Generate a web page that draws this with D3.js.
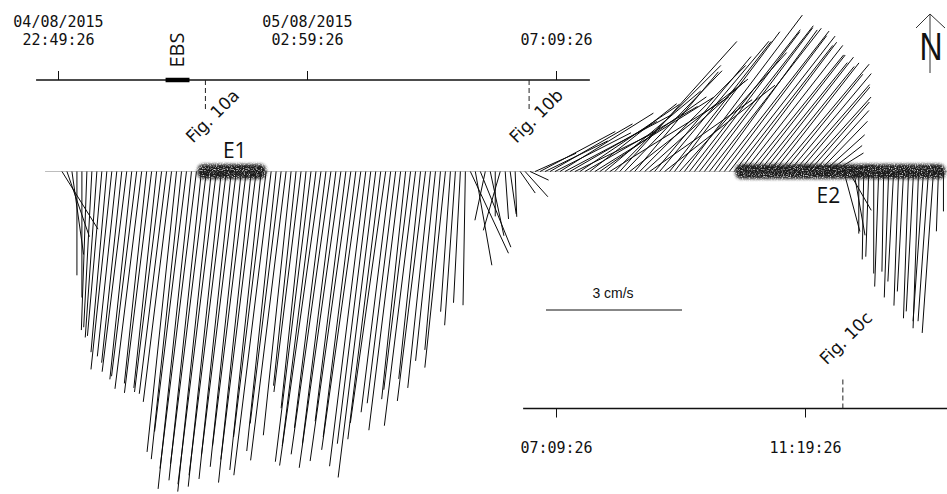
<!DOCTYPE html>
<html>
<head>
<meta charset="utf-8">
<script src="https://cdn.jsdelivr.net/npm/d3@7"></script>
<style>
  html, body { margin: 0; padding: 0; background: #fff; }
  svg { display: block; }
</style>
</head>
<body>
<svg id="chart" width="947" height="494"></svg>
<script>
// ---- Current-meter record: one stick every 5 minutes from the first ensemble ----
const firstSample = new Date(2015, 7, 4, 22, 53, 26);
const sampleMinutes = 5;

// Current speed (cm/s) of each ensemble
const speed = [
  1.50, 1.52, 1.85, 2.29, 2.78,  3.50, 3.44, 3.67, 3.64, 4.00,
  4.39, 4.10, 4.24, 4.45, 4.61,  4.55, 4.83, 4.70, 4.92, 4.80,
  4.90, 4.94, 5.12, 6.22, 6.38,  5.78, 7.04, 6.60, 6.85, 6.50,
  7.10, 6.95, 6.99, 6.75, 6.82,  6.30, 6.55, 6.10, 6.90, 6.40,
  6.62, 5.90, 6.75, 6.20, 5.60,  6.42, 5.85, 4.75, 4.90, 5.25,
  6.45, 6.10, 6.55, 5.70, 6.30,  6.05, 6.60, 5.55, 6.45, 5.90,
  6.20, 6.55, 6.05, 6.80, 5.95,  5.60, 5.35, 5.15, 5.75, 5.05,
  4.85, 5.65, 4.60, 5.10, 4.80,  4.20, 3.95, 4.35, 3.10, 3.40,
  2.90, 2.95, 1.99, 2.10, 1.80,  1.10, 1.45, 0.99, 1.35, 1.05,
  0.95, 1.00, 0.58, 0.75, 0.45,  0.99, 1.88, 1.54, 2.10, 1.88,
  2.43, 2.65, 2.21, 1.99, 2.65,  2.87, 2.43, 3.09, 2.87, 2.76,
  3.09, 3.31, 3.86, 3.09, 3.31,  2.87, 3.31, 2.98, 2.76, 3.31,
  3.75, 3.09, 3.64, 3.86, 3.53,  4.32, 3.97, 3.86, 4.08, 3.97,
  4.01, 3.86, 3.93, 3.75, 3.79,  3.53, 3.57, 3.53, 3.31, 3.26,
  3.09, 3.20, 2.98, 3.04, 3.09,  2.76, 2.82, 2.54, 2.43, 2.21,
  2.03, 1.81, 1.54, 1.21, 0.93,  0.77, 0.77, 1.37, 0.99, 1.43,
  1.37, 1.94, 1.88, 2.25, 2.54,  2.21, 2.78, 2.43, 2.96, 2.65,
  3.24, 3.09, 3.46, 3.31, 3.31,  3.57, 1.32, 0.88
];

// Direction the current flows toward (degrees clockwise from north)
const direction = [
  148, 161, 172, 180, 180,  182, 183, 184, 185, 185,
  186, 186, 186, 187, 186,  187, 187, 186, 187, 186,
  187, 187, 187, 186, 186,  187, 186, 187, 186, 187,
  186, 187, 186, 187, 186,  187, 186, 187, 186, 187,
  186, 187, 187, 186, 187,  187, 186, 186, 187, 186,
  187, 187, 188, 187, 188,  187, 188, 187, 188, 187,
  188, 187, 187, 187, 187,  188, 187, 187, 187, 186,
  187, 187, 186, 187, 186,  186, 185, 186, 184, 184,
  183, 181, 155, 170, 158,  192, 168, 180, 196, 176,
  172, 178, 145, 138, 115,   66,  62,  64,  60,  63,
   58,  62,  60,  64,  56,   60,  52,  58,  55,  50,
   58,  45,  42,  44,  52,   40,  45,  48,  55,  40,
   40,  52,  38,  37,  42,   37,  38,  37,  38,  37,
   38,  36,  38,  37,  38,   38,  37,  38,  39,  38,
   39,  38,  39,  38,  40,   39,  40,  41,  40,  42,
   41,  42,  44,  48,  52,   58,  80, 165, 150, 170,
  180, 181, 182, 180, 182,  181, 182, 183, 182, 183,
  182, 183, 182, 184, 184,  184, 182, 180
];

// Time axes
const topTicks = [new Date(2015, 7, 4, 22, 49, 26), new Date(2015, 7, 5, 2, 59, 26), new Date(2015, 7, 5, 7, 9, 26)];
const topTickDates = ["04/08/2015", "05/08/2015", ""];
const topTickTimes = ["22:49:26", "02:59:26", "07:09:26"];
const bottomTicks = [new Date(2015, 7, 5, 7, 9, 26), new Date(2015, 7, 5, 11, 19, 26)];
const bottomTickTimes = ["07:09:26", "11:19:26"];
const topAxisSpan = [new Date(2015, 7, 4, 22, 27, 26), new Date(2015, 7, 5, 7, 43, 26)];
const bottomAxisSpan = [new Date(2015, 7, 5, 6, 36, 26), new Date(2015, 7, 5, 13, 50, 26)];
const baselineSpan = [new Date(2015, 7, 4, 22, 36, 26), new Date(2015, 7, 5, 13, 50, 26)];

// Events E1 / E2
const eventLabels = ["E1", "E2"];
const eventStarts = [new Date(2015, 7, 5, 1, 9, 26), new Date(2015, 7, 5, 10, 9, 26)];
const eventEnds = [new Date(2015, 7, 5, 2, 18, 26), new Date(2015, 7, 5, 13, 40, 26)];

// EBS deployment
const ebsLabel = "EBS";
const ebsStart = new Date(2015, 7, 5, 0, 37, 26);
const ebsEnd = new Date(2015, 7, 5, 1, 1, 26);

// Snapshot markers
const figLabels = ["Fig. 10a", "Fig. 10b", "Fig. 10c"];
const figTimes = [new Date(2015, 7, 5, 1, 17, 26), new Date(2015, 7, 5, 6, 42, 26), new Date(2015, 7, 5, 11, 57, 26)];
const figRows = ["top", "top", "bottom"];

// Speed reference bar
const scaleBarSpeed = 3;
const scaleBarLabel = "3 cm/s";

// ---- Layout ----
const svg = d3.select("#chart");
const topAxisY = 80;
const baselineY = 171.5;
const bottomAxisY = 408.5;
const monoFont = "'DejaVu Sans Mono', monospace";

const x = d3.scaleTime()
  .domain([topTicks[0], topTicks[2]])
  .range([58, 556]);

// pixel length of a vector of given speed
const k = d3.scaleLinear().domain([0, 3]).range([0, 136]);

const defs = svg.append("defs");
const grain = defs.append("filter").attr("id", "grain")
  .attr("x", "-10%").attr("y", "-60%").attr("width", "120%").attr("height", "220%");
grain.append("feGaussianBlur").attr("in", "SourceGraphic").attr("stdDeviation", 1.4).attr("result", "soft");
grain.append("feTurbulence").attr("type", "fractalNoise").attr("baseFrequency", 0.85)
  .attr("numOctaves", 2).attr("seed", 7).attr("result", "noise");
grain.append("feColorMatrix").attr("in", "noise").attr("type", "matrix")
  .attr("values", "0 0 0 0 0  0 0 0 0 0  0 0 0 0 0  0 0 0 2.6 -0.35").attr("result", "mask");
grain.append("feComposite").attr("in", "soft").attr("in2", "mask").attr("operator", "in");

// stick baseline
svg.append("line")
  .attr("x1", x(baselineSpan[0])).attr("x2", x(baselineSpan[1]))
  .attr("y1", baselineY).attr("y2", baselineY)
  .attr("stroke", "#bdbdbd").attr("stroke-width", 1);

// sticks
const sticks = speed.map((s, i) => {
  const t = d3.timeMinute.offset(firstSample, i * sampleMinutes);
  const rad = direction[i] * Math.PI / 180;
  return { t, u: s * Math.sin(rad), v: s * Math.cos(rad) };
});

svg.append("g")
  .selectAll("line")
  .data(sticks)
  .join("line")
  .attr("x1", d => x(d.t))
  .attr("y1", baselineY)
  .attr("x2", d => x(d.t) + k(d.u))
  .attr("y2", d => baselineY - k(d.v))
  .attr("stroke", "#0a0a0a")
  .attr("stroke-width", 1);

// event bands
svg.append("g")
  .selectAll("rect")
  .data(eventLabels)
  .join("rect")
  .attr("x", (d, i) => x(eventStarts[i]))
  .attr("width", (d, i) => x(eventEnds[i]) - x(eventStarts[i]))
  .attr("y", baselineY - 7.5)
  .attr("height", 15)
  .attr("rx", 6)
  .attr("fill", "#1c1c1c")
  .attr("filter", "url(#grain)");

const eventLabelPos = [{ dx: 3, y: 158 }, { dx: -12, y: 203 }];
svg.append("g")
  .selectAll("text")
  .data(eventLabels)
  .join("text")
  .attr("x", (d, i) => (x(eventStarts[i]) + x(eventEnds[i])) / 2 + eventLabelPos[i].dx)
  .attr("y", (d, i) => eventLabelPos[i].y)
  .attr("text-anchor", "middle")
  .attr("font-family", "'Open Sans', sans-serif")
  .attr("font-size", 21)
  .attr("fill", "#111")
  .text(d => d);

// top time axis
svg.append("line")
  .attr("x1", x(topAxisSpan[0])).attr("x2", x(topAxisSpan[1]))
  .attr("y1", topAxisY).attr("y2", topAxisY)
  .attr("stroke", "#111").attr("stroke-width", 1.3);

const gTop = svg.append("g").attr("transform", `translate(0,${topAxisY})`)
  .call(d3.axisTop(x).tickValues(topTicks).tickSize(9).tickSizeOuter(0).tickPadding(26)
    .tickFormat((d, i) => topTickTimes[i]));
gTop.select(".domain").remove();
gTop.selectAll(".tick line").attr("stroke", "#111").attr("stroke-width", 1);
gTop.selectAll(".tick text").attr("font-family", monoFont).attr("font-size", 15).attr("fill", "#111").attr("dy", 0);
gTop.selectAll(".tick").append("text")
  .attr("y", 27 - topAxisY)
  .attr("text-anchor", "middle")
  .attr("font-family", monoFont).attr("font-size", 15).attr("fill", "#111")
  .text((d, i) => topTickDates[i]);

// bottom time axis
svg.append("line")
  .attr("x1", x(bottomAxisSpan[0])).attr("x2", x(bottomAxisSpan[1]))
  .attr("y1", bottomAxisY).attr("y2", bottomAxisY)
  .attr("stroke", "#111").attr("stroke-width", 1.3);

const gBot = svg.append("g").attr("transform", `translate(0,${bottomAxisY})`)
  .call(d3.axisBottom(x).tickValues(bottomTicks).tickSize(9).tickSizeOuter(0).tickPadding(25)
    .tickFormat((d, i) => bottomTickTimes[i]));
gBot.select(".domain").remove();
gBot.selectAll(".tick line").attr("stroke", "#111").attr("stroke-width", 1);
gBot.selectAll(".tick text").attr("font-family", monoFont).attr("font-size", 15).attr("fill", "#111");

// EBS bar
svg.append("line")
  .attr("x1", x(ebsStart)).attr("x2", x(ebsEnd))
  .attr("y1", topAxisY).attr("y2", topAxisY)
  .attr("stroke", "#000").attr("stroke-width", 4.5);
svg.append("text")
  .attr("transform", `translate(${(x(ebsStart) + x(ebsEnd)) / 2 + 6},50) rotate(-90)`)
  .attr("text-anchor", "middle")
  .attr("font-family", "'Open Sans', sans-serif")
  .attr("font-size", 20)
  .attr("fill", "#111")
  .text(ebsLabel);

// snapshot markers
figTimes.forEach((t, i) => {
  const fx = x(t);
  const top = figRows[i] === "top";
  const axisY = top ? topAxisY : bottomAxisY;
  svg.append("line")
    .attr("x1", fx).attr("x2", fx)
    .attr("y1", axisY).attr("y2", top ? axisY + 30 : axisY - 30)
    .attr("stroke", "#222").attr("stroke-width", 1)
    .attr("stroke-dasharray", "5,3");
  const cx = fx + (top ? 7 : 3);
  const cy = top ? 116 : 338;
  svg.append("text")
    .attr("transform", `translate(${cx},${cy}) rotate(-45)`)
    .attr("text-anchor", "middle")
    .attr("dy", "0.35em")
    .attr("font-family", "'DejaVu Sans', sans-serif")
    .attr("font-size", 17)
    .attr("fill", "#111")
    .text(figLabels[i]);
});

// speed scale bar
const barX = 546, barY = 310;
svg.append("line")
  .attr("x1", barX).attr("x2", barX + k(scaleBarSpeed))
  .attr("y1", barY).attr("y2", barY)
  .attr("stroke", "#111").attr("stroke-width", 1);
svg.append("text")
  .attr("x", barX + k(scaleBarSpeed) / 2 - 1)
  .attr("y", 298)
  .attr("text-anchor", "middle")
  .attr("font-family", "'Liberation Sans', Arial, sans-serif")
  .attr("font-size", 14)
  .attr("fill", "#111")
  .text(scaleBarLabel);

// north arrow
const nX = 930;
svg.append("line").attr("x1", nX).attr("x2", nX).attr("y1", 73).attr("y2", 14)
  .attr("stroke", "#333").attr("stroke-width", 1);
svg.append("polyline").attr("points", `${nX - 14},28 ${nX},14 ${nX + 15},28`)
  .attr("fill", "none").attr("stroke", "#333").attr("stroke-width", 1);
svg.append("text")
  .attr("transform", `translate(${nX + 1},60) scale(0.82,1)`)
  .attr("text-anchor", "middle")
  .attr("font-family", "'Liberation Sans', Arial, sans-serif")
  .attr("font-size", 39)
  .attr("fill", "#111")
  .text("N");
</script>
</body>
</html>
